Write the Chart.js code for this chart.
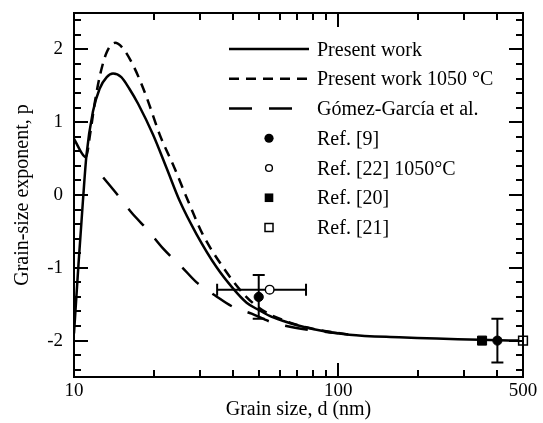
<!DOCTYPE html>
<html><head><meta charset="utf-8">
<script src="https://cdn.jsdelivr.net/npm/chart.js@4.4.0/dist/chart.umd.min.js"></script>
<style>html,body{margin:0;padding:0;background:#fff}</style>
</head><body>
<canvas id="c" width="543" height="423"></canvas>
<script>
const FONT = "'Liberation Serif', 'Times New Roman', serif";

// ---- data (grain size d in nm, exponent p) ----
const presentD = [10, 10.4, 10.8, 11.15, 11.8, 12.5, 13.3, 14.05, 15.1, 16.2, 17.5, 19.9, 22.4, 25.1, 29.1, 34.6, 40.1, 45, 50, 55, 62, 70, 80, 110, 170, 345, 500];
const presentP = [-1.9, -0.95, -0.1, 0.55, 1.15, 1.46, 1.62, 1.67, 1.62, 1.46, 1.25, 0.83, 0.37, -0.08, -0.54, -0.99, -1.29, -1.48, -1.58, -1.66, -1.73, -1.79, -1.84, -1.92, -1.955, -1.99, -2.0];

const p1050D = [10, 11.1, 11.5, 12.0, 12.55, 13.3, 14.3, 15.35, 16.75, 18.3, 19.1, 21.1, 24.0, 27.0, 30.7, 36.6, 43.6, 48.9, 55, 62, 70, 82, 110];
const p1050P = [0.77, 0.52, 0.83, 1.28, 1.65, 1.96, 2.09, 2.01, 1.78, 1.46, 1.28, 0.83, 0.37, -0.08, -0.54, -0.99, -1.35, -1.52, -1.64, -1.72, -1.785, -1.845, -1.92];

const gomezD = [12.9, 14.7, 16.5, 19.1, 21.8, 25.6, 29.1, 34.2, 40.1, 47, 55.2, 65.7, 80, 100];
const gomezP = [0.24, -0.01, -0.24, -0.49, -0.74, -0.99, -1.2, -1.38, -1.54, -1.63, -1.74, -1.81, -1.86, -1.9];

const ref9D = [50, 400];
const ref9P = [-1.4, -2.0];
const ref9PErr = [0.3, 0.3];

const ref22D = [55];
const ref22P = [-1.3];
const ref22DLow = [34.8];
const ref22DHigh = [75.5];

const ref20D = [350];
const ref20P = [-2.0];

const ref21D = [500];
const ref21P = [-2.0];

// ---- axes ticks ----
const xLabelTicks = [10, 100, 500];
const xMajorTicks = [100];
const xMinorTicks = [20, 30, 40, 50, 60, 70, 80, 90, 200, 300, 400];
const yMajorTicks = [-2, -1, 0, 1, 2];
const yMinorTicks = [-2.4, -2.2, -1.8, -1.6, -1.4, -1.2, -0.8, -0.6, -0.4, -0.2, 0.2, 0.4, 0.6, 0.8, 1.2, 1.4, 1.6, 1.8, 2.2, 2.4];

const legendLabels = ['Present work', 'Present work 1050 \u00B0C', 'G\u00F3mez-Garc\u00EDa et al.', 'Ref. [9]', 'Ref. [22] 1050\u00B0C', 'Ref. [20]', 'Ref. [21]'];

const pts = (xs, ys) => xs.map((x, i) => ({x: x, y: ys[i]}));

const LW = 2.5;
const datasets = [
  {label: legendLabels[3], data: pts(ref9D, ref9P), showLine: false, pointStyle: 'circle', pointRadius: 4.6,
   backgroundColor: '#000', borderColor: '#000', borderWidth: 1, clip: false, legendKind: 'fcircle'},
  {label: legendLabels[4], data: pts(ref22D, ref22P), showLine: false, pointStyle: 'circle', pointRadius: 4.3,
   backgroundColor: '#fff', borderColor: '#000', borderWidth: 1.4, clip: false, legendKind: 'ocircle'},
  {label: legendLabels[5], data: pts(ref20D, ref20P), showLine: false, pointStyle: 'rect', pointRadius: 6.4,
   backgroundColor: '#000', borderColor: '#000', borderWidth: 1, clip: false, legendKind: 'fsquare'},
  {label: legendLabels[6], data: pts(ref21D, ref21P), showLine: false, pointStyle: 'rect', pointRadius: 6.2,
   backgroundColor: '#fff', borderColor: '#000', borderWidth: 1.5, clip: false, legendKind: 'osquare'},
  {label: legendLabels[0], data: pts(presentD, presentP), showLine: true, pointRadius: 0, borderColor: '#000',
   borderWidth: LW, cubicInterpolationMode: 'monotone', legendKind: 'line'},
  {label: legendLabels[1], data: pts(p1050D, p1050P), showLine: true, pointRadius: 0, borderColor: '#000',
   borderWidth: LW, borderDash: [10, 7], cubicInterpolationMode: 'monotone', legendKind: 'line',
   segment: {borderDash: ctx => ctx.p0DataIndex === 0 ? [] : undefined}},
  {label: legendLabels[2], data: pts(gomezD, gomezP), showLine: true, pointRadius: 0, borderColor: '#000',
   borderWidth: LW, borderDash: [23, 17], cubicInterpolationMode: 'monotone', legendKind: 'line'}
];

const legendOrder = [4, 5, 6, 0, 1, 2, 3];

function drawMarker(ctx, kind, x, y) {
  ctx.save();
  ctx.setLineDash([]);
  ctx.strokeStyle = '#000';
  if (kind === 'fcircle') {
    ctx.fillStyle = '#000'; ctx.beginPath(); ctx.arc(x, y, 4.6, 0, Math.PI * 2); ctx.fill();
  } else if (kind === 'ocircle') {
    ctx.fillStyle = '#fff'; ctx.lineWidth = 1.4; ctx.beginPath(); ctx.arc(x, y, 3.4, 0, Math.PI * 2); ctx.fill(); ctx.stroke();
  } else if (kind === 'fsquare') {
    ctx.fillStyle = '#000'; ctx.fillRect(x - 4.3, y - 4.3, 8.6, 8.6);
  } else if (kind === 'osquare') {
    ctx.fillStyle = '#fff'; ctx.lineWidth = 1.5; ctx.fillRect(x - 4, y - 4, 8, 8); ctx.strokeRect(x - 4, y - 4, 8, 8);
  }
  ctx.restore();
}

const decorPlugin = {
  id: 'decor',
  beforeDatasetsDraw(chart) {
    const ctx = chart.ctx, xs = chart.scales.x, ys = chart.scales.y;
    ctx.save();
    ctx.strokeStyle = '#000';
    ctx.lineWidth = 2;
    ctx.setLineDash([]);
    ref9D.forEach((d, i) => {
      const x = xs.getPixelForValue(d);
      const y1 = ys.getPixelForValue(ref9P[i] + ref9PErr[i]);
      const y2 = ys.getPixelForValue(ref9P[i] - ref9PErr[i]);
      ctx.beginPath();
      ctx.moveTo(x, y1); ctx.lineTo(x, y2);
      ctx.moveTo(x - 6, y1); ctx.lineTo(x + 6, y1);
      ctx.moveTo(x - 6, y2); ctx.lineTo(x + 6, y2);
      ctx.stroke();
    });
    ref22D.forEach((d, i) => {
      const y = ys.getPixelForValue(ref22P[i]);
      const x1 = xs.getPixelForValue(ref22DLow[i]);
      const x2 = xs.getPixelForValue(ref22DHigh[i]);
      ctx.beginPath();
      ctx.moveTo(x1, y); ctx.lineTo(x2, y);
      ctx.moveTo(x1, y - 6); ctx.lineTo(x1, y + 6);
      ctx.moveTo(x2, y - 6); ctx.lineTo(x2, y + 6);
      ctx.stroke();
    });
    ctx.restore();
  },
  afterDatasetsDraw(chart) {
    const ctx = chart.ctx, xs = chart.scales.x, ys = chart.scales.y;
    const a = chart.chartArea;
    ctx.save();
    ctx.setLineDash([]);
    ctx.strokeStyle = '#000';
    ctx.lineWidth = 2;
    ctx.strokeRect(a.left, a.top, a.right - a.left, a.bottom - a.top);
    const MAJ = 14, MIN = 7;
    ctx.beginPath();
    const xt = (v, len) => {
      const x = Math.round(xs.getPixelForValue(v));
      ctx.moveTo(x, a.bottom); ctx.lineTo(x, a.bottom - len);
      ctx.moveTo(x, a.top); ctx.lineTo(x, a.top + len);
    };
    const yt = (v, len) => {
      const y = Math.round(ys.getPixelForValue(v));
      ctx.moveTo(a.left, y); ctx.lineTo(a.left + len, y);
      ctx.moveTo(a.right, y); ctx.lineTo(a.right - len, y);
    };
    xMajorTicks.forEach(v => xt(v, MAJ));
    xMinorTicks.forEach(v => xt(v, MIN));
    yMajorTicks.forEach(v => yt(v, MAJ));
    yMinorTicks.forEach(v => yt(v, MIN));
    ctx.stroke();

    // legend
    const lx0 = 229, lx1 = 309, mx = 269, tx = 317, ly0 = 49, step = 29.75;
    ctx.font = '20px ' + FONT;
    ctx.fillStyle = '#000';
    ctx.textBaseline = 'alphabetic';
    ctx.textAlign = 'left';
    legendOrder.forEach((di, row) => {
      const ds = chart.data.datasets[di];
      const y = ly0 + row * step;
      if (ds.legendKind === 'line') {
        ctx.save();
        ctx.lineWidth = ds.borderWidth;
        ctx.setLineDash(ds.borderDash || []);
        ctx.beginPath(); ctx.moveTo(lx0, y); ctx.lineTo(lx1, y); ctx.stroke();
        ctx.restore();
      } else {
        drawMarker(ctx, ds.legendKind, mx, y);
      }
      ctx.fillText(ds.label, tx, y + 6.5);
    });
    ctx.restore();
  }
};

Chart.defaults.font.family = FONT;
Chart.defaults.color = '#000';

const hiddenGrid = {display: true, drawOnChartArea: false, drawTicks: true, color: 'rgba(0,0,0,0)'};

new Chart(document.getElementById('c'), {
  type: 'scatter',
  data: {datasets: datasets},
  options: {
    responsive: false,
    animation: false,
    events: [],
    layout: {padding: {left: 0, right: 20, top: 13, bottom: 0}},
    plugins: {legend: {display: false}, tooltip: {enabled: false}},
    scales: {
      x: {
        type: 'logarithmic', min: 10, max: 500,
        grid: Object.assign({}, hiddenGrid, {tickLength: 3}),
        border: {display: false},
        afterBuildTicks: s => { s.ticks = xLabelTicks.map(v => ({value: v})); },
        afterFit: s => { s.height = 46; },
        ticks: {autoSkip: false, maxRotation: 0, padding: 0, font: {size: 19, family: FONT}, color: '#000',
                callback: v => String(v)},
        title: {display: true, text: 'Grain size, d (nm)', font: {size: 20, family: FONT}, color: '#000',
                padding: {top: 0, bottom: 1}}
      },
      y: {
        type: 'linear', min: -2.5, max: 2.5,
        grid: Object.assign({}, hiddenGrid, {tickLength: 11}),
        border: {display: false},
        afterBuildTicks: s => { s.ticks = yMajorTicks.map(v => ({value: v})); },
        afterFit: s => { s.width = 74; },
        ticks: {autoSkip: false, padding: 0, font: {size: 19, family: FONT}, color: '#000',
                callback: v => String(v)},
        title: {display: true, text: 'Grain-size exponent, p', font: {size: 20, family: FONT}, color: '#000',
                padding: {top: 11, bottom: 0}}
      }
    }
  },
  plugins: [decorPlugin]
});
</script>
</body></html>
